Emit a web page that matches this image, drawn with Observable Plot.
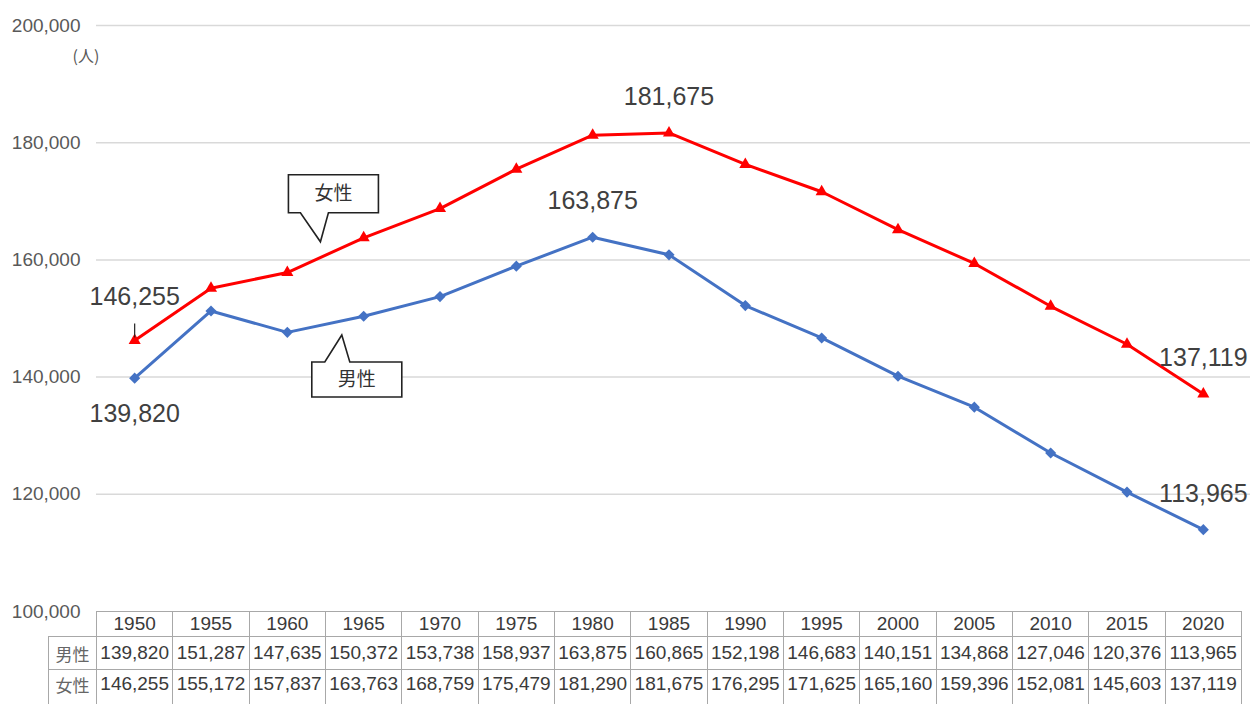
<!DOCTYPE html>
<html>
<head>
<meta charset="utf-8">
<script src="https://cdn.jsdelivr.net/npm/d3@7"></script>
<script src="https://cdn.jsdelivr.net/npm/@observablehq/plot@0.6"></script>
<style>
  html, body { margin: 0; padding: 0; background: #fff; }
  #wrap { position: relative; width: 1258px; height: 704px; overflow: hidden; }
  #tbl { position: absolute; left: 48px; top: 611px; border-collapse: collapse; table-layout: fixed;
         font-family: "Liberation Sans", Arial, sans-serif; font-size: 19px; color: #3a3a3a; }
  #tbl td { border: 1px solid #a8a8a8; padding: 0; text-align: center; white-space: nowrap; overflow: hidden; }
  #tbl td.lab { font-family: "Noto Sans CJK JP", sans-serif; font-size: 17px; color: #666; }
  #tbl td.blank { border: none; }
  #tbl tr.h td { height: 24px; }
  #tbl tr.m td { height: 32px; }
  #tbl tr.f td { height: 28px; padding-bottom: 8px; }
</style>
</head>
<body>
<div id="wrap"></div>
<script>
// ---- data ----
const years = [1950, 1955, 1960, 1965, 1970, 1975, 1980, 1985, 1990, 1995, 2000, 2005, 2010, 2015, 2020];
const male = [139820, 151287, 147635, 150372, 153738, 158937, 163875, 160865, 152198, 146683, 140151, 134868, 127046, 120376, 113965];
const female = [146255, 155172, 157837, 163763, 168759, 175479, 181290, 181675, 176295, 171625, 165160, 159396, 152081, 145603, 137119];
const seriesNames = ["男性", "女性"];
const yTicks = [100000, 120000, 140000, 160000, 180000, 200000];
const unitLabel = "(人)";
const maleLabelYears = [1950, 1980, 2020];
const femaleLabelYears = [1950, 1985, 2020];
// callouts: series name, year and value the tail points to
const callouts = [
  {label: "女性", year: 1962.2, value: 163000},
  {label: "男性", year: 1963.6, value: 147100}
];

const fmt = d3.format(",");
const maleRows = years.map((y, i) => ({year: y, value: male[i], series: "男性"}));
const femaleRows = years.map((y, i) => ({year: y, value: female[i], series: "女性"}));

const labelsAbove = [
  ...femaleRows.filter(d => femaleLabelYears.includes(d.year) && d.year !== 1950),
  ...maleRows.filter(d => maleLabelYears.includes(d.year) && d.year !== 1950)
];
const labelFemaleFirst = femaleRows.filter(d => femaleLabelYears.includes(d.year) && d.year === 1950);
const labelMaleFirst = maleRows.filter(d => maleLabelYears.includes(d.year) && d.year === 1950);

const labelStyle = {x: "year", y: "value", text: d => fmt(d.value), fontSize: 25, fill: "#404040"};

const plot = Plot.plot({
  width: 1258,
  height: 704,
  marginTop: 25,
  marginBottom: 93,
  marginLeft: 96,
  marginRight: 17,
  x: {type: "linear", domain: [1947.5, 2022.5], axis: null},
  y: {domain: [100000, 200000], axis: null},
  style: {fontFamily: "'Liberation Sans', Arial, sans-serif", background: "transparent", overflow: "visible"},
  marks: [
    Plot.ruleY(yTicks.filter(t => t > yTicks[0]), {stroke: "#d9d9d9", strokeWidth: 1.5, insetRight: -9}),
    Plot.axisY({ticks: yTicks, tickFormat: fmt, tickSize: 0, tickPadding: 16, fontSize: 19, color: "#595959", label: null}),
    Plot.text([unitLabel], {frameAnchor: "top-left", dx: -24, dy: 25, fontSize: 16, fill: "#595959", fontFamily: "'Noto Sans CJK JP', sans-serif"}),
    Plot.line(femaleRows, {x: "year", y: "value", stroke: "#ff0000", strokeWidth: 3}),
    Plot.line(maleRows, {x: "year", y: "value", stroke: "#4472c4", strokeWidth: 3}),
    Plot.dot(femaleRows, {x: "year", y: "value", symbol: "triangle", r: 4.5, fill: "#ff0000"}),
    Plot.dot(maleRows, {x: "year", y: "value", symbol: "diamond2", r: 5, fill: "#4472c4"}),
    Plot.ruleX(labelFemaleFirst, {x: "year", y1: d => d.value + 400, y2: d => d.value + 2800, stroke: "#222", strokeWidth: 1.2}),
    Plot.text(labelsAbove, {...labelStyle, dy: -36}),
    Plot.text(labelFemaleFirst, {...labelStyle, dy: -43}),
    Plot.text(labelMaleFirst, {...labelStyle, dy: 36})
  ]
});

const wrap = document.getElementById("wrap");
wrap.appendChild(plot);

// ---- callouts drawn with the plot's own scales ----
const sx = plot.scale("x"), sy = plot.scale("y");
const svg = d3.select(plot.tagName === "svg" ? plot : plot.querySelector("svg"));
for (const c of callouts) {
  const tx = sx.apply(c.year), ty = sy.apply(c.value);
  let path, cx, cy;
  if (c.label === "女性") {
    const L = tx - 32, R = tx + 58, T = ty - 67, B = ty - 29;
    path = `M${L},${T}H${R}V${B}H${tx + 8}L${tx},${ty}L${tx - 20},${B}H${L}Z`;
    cx = (L + R) / 2; cy = (T + B) / 2;
  } else {
    const L = tx - 30, R = tx + 60, T = ty + 27, B = ty + 62;
    path = `M${L},${T}H${tx - 17}L${tx},${ty}L${tx + 8},${T}H${R}V${B}H${L}Z`;
    cx = (L + R) / 2; cy = (T + B) / 2;
  }
  svg.append("path").attr("d", path).attr("fill", "#fff").attr("stroke", "#222").attr("stroke-width", 1.6);
  svg.append("text").attr("x", cx).attr("y", cy).attr("dy", "0.35em").attr("text-anchor", "middle")
    .attr("font-family", "'Noto Sans CJK JP', sans-serif").attr("font-size", 19).attr("fill", "#333").text(c.label);
}

// ---- data table below the chart ----
const table = document.createElement("table");
table.id = "tbl";
const colg = document.createElement("colgroup");
const c0 = document.createElement("col"); c0.style.width = "48px"; colg.appendChild(c0);
const colW = sx.apply(1952.5) - sx.apply(1947.5);
for (const y of years) { const c = document.createElement("col"); c.style.width = colW + "px"; colg.appendChild(c); }
table.appendChild(colg);
function addRow(cls, first, cells, firstCls) {
  const tr = document.createElement("tr"); tr.className = cls;
  const td0 = document.createElement("td"); td0.className = firstCls; td0.textContent = first; tr.appendChild(td0);
  for (const v of cells) { const td = document.createElement("td"); td.textContent = v; tr.appendChild(td); }
  table.appendChild(tr);
}
addRow("h", "", years.map(String), "blank");
addRow("m", seriesNames[0], male.map(fmt), "lab");
addRow("f", seriesNames[1], female.map(fmt), "lab");
table.style.width = (48 + sx.apply(2022.5) - sx.apply(1947.5)) + "px";
wrap.appendChild(table);
</script>
</body>
</html>
